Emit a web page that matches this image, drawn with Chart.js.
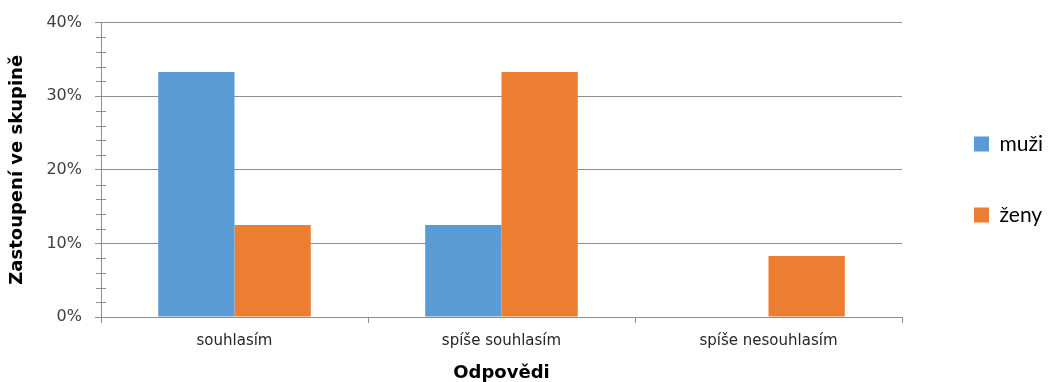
<!DOCTYPE html>
<html>
<head>
<meta charset="utf-8">
<script src="https://cdn.jsdelivr.net/npm/chart.js@4/dist/chart.umd.min.js"></script>
<style>
  html, body { margin: 0; padding: 0; background: #fff; }
  canvas { display: block; }
</style>
</head>
<body>
<canvas id="c" width="1049" height="382"></canvas>
<script>
// Answers and the share of each group (percent)
const categories = ['souhlasím', 'spíše souhlasím', 'spíše nesouhlasím'];
const seriesNames = ['muži', 'ženy'];
const muzi = [33.3, 12.5, 0];
const zeny = [12.5, 33.3, 8.3];
const yTicks = [0, 10, 20, 30, 40];
const yTickLabels = ['0%', '10%', '20%', '30%', '40%'];

const GRAY = '#8f8f8f';
const BASE_FONT = 'DejaVu Sans';

// Small minor tick marks every 2 % crossing the vertical axis
const minorTicks = {
  id: 'minorTicks',
  afterDraw(chart) {
    const y = chart.scales.y;
    const ctx = chart.ctx;
    ctx.save();
    ctx.strokeStyle = GRAY;
    ctx.lineWidth = 1;
    for (let v = y.min; v <= y.max; v += 2) {
      if (v % 10 === 0) continue;
      const py = Math.round(y.getPixelForValue(v)) + 0.5;
      ctx.beginPath();
      ctx.moveTo(y.right - 5, py);
      ctx.lineTo(y.right + 5, py);
      ctx.stroke();
    }
    ctx.restore();
  }
};

// Nudge the legend block upward
const legendShift = {
  id: 'legendShift',
  afterLayout(chart) {
    const l = chart.legend;
    if (l) { l.top -= 18; l.bottom -= 18; }
  }
};

new Chart(document.getElementById('c'), {
  type: 'bar',
  data: {
    labels: categories,
    datasets: [
      { label: seriesNames[0], data: muzi, backgroundColor: '#5B9BD5', borderWidth: 0,
        categoryPercentage: 0.5714, barPercentage: 1 },
      { label: seriesNames[1], data: zeny, backgroundColor: '#ED7D31', borderWidth: 0,
        categoryPercentage: 0.5714, barPercentage: 1 }
    ]
  },
  options: {
    responsive: false,
    animation: false,
    layout: { padding: { top: 13, left: 0, right: 0, bottom: 0 } },
    plugins: {
      tooltip: { enabled: false },
      legend: {
        position: 'right',
        align: 'center',
        maxWidth: 125,
        labels: {
          boxWidth: 15,
          boxHeight: 15,
          padding: 50,
          color: '#000',
          font: { family: 'Lato', size: 21 }
        }
      }
    },
    scales: {
      x: {
        offset: true,
        grid: { offset: true, drawOnChartArea: false, drawTicks: true, tickLength: 6, color: GRAY },
        border: { color: GRAY },
        ticks: { font: { family: BASE_FONT, size: 15 }, color: '#262626', padding: 9, maxRotation: 0 },
        title: {
          display: true, text: 'Odpovědi', color: '#000',
          font: { family: BASE_FONT, size: 18, weight: 'bold' },
          padding: { top: 0, bottom: -2 }
        },
        afterFit(s) { s.height = 65; }
      },
      y: {
        min: 0,
        max: 40,
        afterBuildTicks(s) { s.ticks = yTicks.map(v => ({ value: v })); },
        ticks: {
          callback: (v) => yTickLabels[yTicks.indexOf(v)],
          font: { family: BASE_FONT, size: 16 }, color: '#404040', padding: 13
        },
        grid: { color: GRAY, tickLength: 6 },
        border: { color: GRAY },
        title: {
          display: true, text: 'Zastoupení ve skupině', color: '#000',
          font: { family: BASE_FONT, size: 18, weight: 'bold' },
          padding: { top: 7, bottom: 0 }
        },
        afterFit(s) { s.width = 101; }
      },
      spacer: {
        type: 'linear',
        position: 'right',
        display: true,
        min: 0, max: 1,
        grid: { display: false },
        border: { display: false },
        ticks: { display: false },
        afterFit(s) { s.width = 22; }
      }
    }
  },
  plugins: [minorTicks, legendShift]
});
</script>
</body>
</html>
